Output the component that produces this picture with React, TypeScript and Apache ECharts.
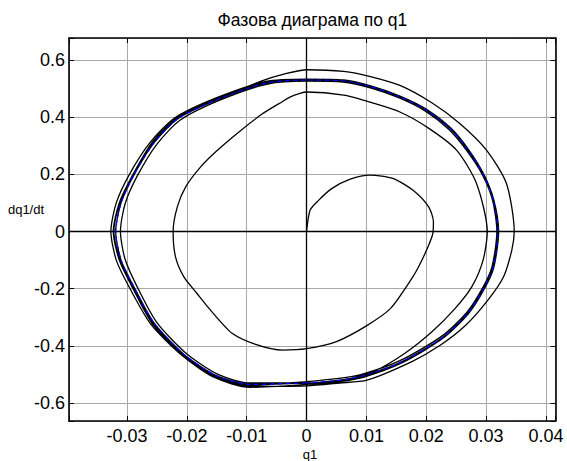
import React, { useEffect, useRef } from "react";
import * as echarts from "echarts";

// Phase portrait data: [q1, dq1/dt]
const spiralStart: number[][] = [
  [0, 0], [0.0006, 0.075], [0.002, 0.109], [0.0042, 0.15], [0.0073, 0.183], [0.0106, 0.197],
  [0.0145, 0.185], [0.0178, 0.144], [0.0204, 0.086], [0.0212, 0.034], [0.0211, -0.007],
  [0.0204, -0.048], [0.019, -0.112], [0.0176, -0.164], [0.014, -0.27], [0.01, -0.33],
  [0.005, -0.385], [0.0, -0.41], [-0.004, -0.415], [-0.0085, -0.395], [-0.0125, -0.355],
  [-0.0163, -0.269], [-0.0183, -0.217], [-0.0205, -0.159], [-0.0219, -0.089], [-0.0223, 0.0],
  [-0.0216, 0.086], [-0.0202, 0.156], [-0.0177, 0.226], [-0.0149, 0.284], [-0.0112, 0.35],
  [-0.0075, 0.41], [-0.004, 0.455], [-0.0027, 0.471], [-0.0011, 0.483], [0.0, 0.488],
  [0.0062, 0.477], [0.011, 0.45], [0.0156, 0.418], [0.0205, 0.36], [0.0251, 0.284],
  [0.0284, 0.168], [0.0302, 0.0], [0.0295, -0.1], [0.0276, -0.194], [0.0248, -0.27],
  [0.021, -0.35], [0.0165, -0.425], [0.0112, -0.49], [0.006, -0.52], [0.0, -0.535],
];

const cycleA: number[][] = [
  [-0.0095, -0.545], [-0.0155, -0.51], [-0.021, -0.43], [-0.026, -0.325], [-0.0295, -0.2],
  [-0.0318, -0.1], [-0.0327, 0.0], [-0.0318, 0.1], [-0.0296, 0.2], [-0.0262, 0.31],
  [-0.022, 0.398], [-0.0148, 0.47], [-0.0068, 0.525], [0.0, 0.533], [0.0062, 0.53],
  [0.011, 0.508], [0.0156, 0.474], [0.02, 0.428], [0.024, 0.362], [0.027, 0.286],
  [0.0296, 0.2], [0.0313, 0.109], [0.0321, 0.0], [0.0313, -0.124], [0.0297, -0.2],
  [0.0271, -0.286], [0.0229, -0.372], [0.0159, -0.46], [0.0095, -0.51], [0.0056, -0.525],
  [0.0, -0.54],
];

const cycleB: number[][] = [
  [0.0, -0.53], [-0.0095, -0.535], [-0.015, -0.505], [-0.0205, -0.43], [-0.0255, -0.32],
  [-0.0287, -0.2], [-0.031, -0.1], [-0.0319, 0.0], [-0.031, 0.1], [-0.0288, 0.2],
  [-0.0255, 0.31], [-0.0215, 0.395], [-0.0144, 0.466], [-0.0066, 0.52], [0.0, 0.53],
  [0.0062, 0.527], [0.011, 0.505], [0.0156, 0.471], [0.02, 0.425], [0.024, 0.36],
  [0.027, 0.284], [0.0295, 0.2], [0.0312, 0.109], [0.032, 0.0], [0.0312, -0.124],
  [0.0296, -0.2], [0.027, -0.284], [0.0228, -0.37], [0.0158, -0.457], [0.0094, -0.505],
  [0.0056, -0.52], [0.0, -0.53],
];

const cycleC: number[][] = [
  [-0.0094, -0.53], [-0.0148, -0.5], [-0.0202, -0.425], [-0.0251, -0.316], [-0.0282, -0.198],
  [-0.0303, -0.099], [-0.0311, 0.0], [-0.0303, 0.099], [-0.0282, 0.198], [-0.025, 0.306],
  [-0.0211, 0.39], [-0.0142, 0.462], [-0.0065, 0.516], [0.0, 0.526], [0.0061, 0.523],
  [0.0108, 0.502], [0.0154, 0.468], [0.0198, 0.422], [0.0238, 0.357], [0.0268, 0.282],
  [0.0294, 0.198], [0.0311, 0.108], [0.0318, 0.0], [0.031, -0.122], [0.0294, -0.198],
  [0.0268, -0.282], [0.0226, -0.366], [0.0156, -0.452], [0.0092, -0.5], [0.0054, -0.514],
  [0.0, -0.525],
];

const outerLoop: number[][] = [
  [-0.0096, -0.538], [-0.0151, -0.507], [-0.0206, -0.431], [-0.0257, -0.321], [-0.0289, -0.2],
  [-0.0312, -0.1], [-0.0322, 0.0], [-0.0312, 0.1], [-0.029, 0.2], [-0.0257, 0.311],
  [-0.0216, 0.396], [-0.0145, 0.467], [-0.0077, 0.525], [-0.0035, 0.552], [0.0001, 0.566],
  [0.0062, 0.56], [0.0105, 0.543], [0.0156, 0.511], [0.0208, 0.452], [0.0256, 0.378],
  [0.0301, 0.284], [0.0334, 0.168], [0.0347, 0.0], [0.0343, -0.065], [0.0329, -0.159],
  [0.0303, -0.24], [0.0265, -0.33], [0.0222, -0.4], [0.0176, -0.455], [0.0101, -0.52],
  [0.0055, -0.53], [0.0, -0.54],
];

const cycleD: number[][] = [
  [-0.0096, -0.542], [-0.0152, -0.508], [-0.0207, -0.432], [-0.0258, -0.322], [-0.029, -0.2],
  [-0.0313, -0.1], [-0.0323, 0.0], [-0.0313, 0.1], [-0.029, 0.2], [-0.0258, 0.312],
  [-0.0217, 0.397], [-0.0146, 0.468], [-0.0067, 0.523], [0.0, 0.532], [0.0063, 0.529],
  [0.0111, 0.507], [0.0157, 0.473], [0.0201, 0.427], [0.0241, 0.362], [0.0271, 0.286],
  [0.0296, 0.201], [0.0313, 0.11], [0.0321, 0.0], [0.0313, -0.125], [0.0297, -0.201],
  [0.0271, -0.286], [0.0229, -0.372], [0.0159, -0.459], [0.0095, -0.507], [0.0057, -0.522],
  [0.0, -0.533],
];

const trajectory: number[][] = [
  ...spiralStart, ...cycleA, ...cycleB, ...cycleC, ...outerLoop, ...cycleD,
];

const X_MIN = -0.0397;
const X_MAX = 0.0416;
const X_STEP = 0.01;
const Y_MIN = -0.663;
const Y_MAX = 0.677;
const Y_STEP = 0.2;

const titleText = "Фазова диаграма по q1";
const xName = "q1";
const yName = "dq1/dt";

const FONT = "'Liberation Sans', Arial, Helvetica, sans-serif";

function onStep(v: number, step: number): boolean {
  const r = v / step;
  return Math.abs(r - Math.round(r)) < 1e-6;
}
function fmt(v: number, step: number): string {
  if (!onStep(v, step)) return "";
  const n = Math.round(v / step) * step;
  const s = Number(n.toFixed(4));
  return s === 0 ? "0" : String(s);
}

export default function App() {
  const ref = useRef<HTMLDivElement>(null);
  useEffect(() => {
    if (!ref.current) return;
    const chart = echarts.init(ref.current, undefined, { renderer: "svg" });
    const commonX = {
      type: "value" as const,
      min: X_MIN,
      max: X_MAX,
      splitNumber: 8,
      minInterval: X_STEP,
      maxInterval: X_STEP,
    };
    const commonY = {
      type: "value" as const,
      min: Y_MIN,
      max: Y_MAX,
      splitNumber: 7,
      minInterval: Y_STEP,
      maxInterval: Y_STEP,
    };
    chart.setOption({
      animation: false,
      backgroundColor: "#ffffff",
      grid: { left: 69, right: 11.5, top: 38, bottom: 40, containLabel: false },
      xAxis: [
        {
          ...commonX,
          position: "bottom",
          axisLine: { show: true, onZero: false, lineStyle: { color: "#000", width: 1.6 } },
          axisTick: { show: true, inside: true, length: 5, lineStyle: { color: "#000", width: 1 } },
          axisLabel: {
            show: true,
            color: "#000",
            fontSize: 18,
            fontFamily: FONT,
            margin: 6,
            formatter: (v: number) => fmt(v, X_STEP),
          },
          splitLine: { show: true, lineStyle: { color: "#a8a8a8", width: 1 } },
        },
        {
          ...commonX,
          position: "top",
          axisLine: { show: true, onZero: false, lineStyle: { color: "#000", width: 1.6 } },
          axisTick: { show: true, inside: true, length: 5, lineStyle: { color: "#000", width: 1 } },
          axisLabel: { show: false },
          splitLine: { show: false },
        },
      ],
      yAxis: [
        {
          ...commonY,
          position: "left",
          axisLine: { show: true, onZero: false, lineStyle: { color: "#000", width: 1.6 } },
          axisTick: { show: true, inside: true, length: 5, lineStyle: { color: "#000", width: 1 } },
          axisLabel: {
            show: true,
            color: "#000",
            fontSize: 18,
            fontFamily: FONT,
            margin: 4,
            formatter: (v: number) => fmt(v, Y_STEP),
          },
          splitLine: { show: true, lineStyle: { color: "#a8a8a8", width: 1 } },
        },
        {
          ...commonY,
          position: "right",
          axisLine: { show: true, onZero: false, lineStyle: { color: "#000", width: 1.6 } },
          axisTick: { show: true, inside: true, length: 5, lineStyle: { color: "#000", width: 1 } },
          axisLabel: { show: false },
          splitLine: { show: false },
        },
      ],
      series: [
        {
          type: "line",
          name: "trajectory",
          xAxisIndex: 0,
          yAxisIndex: 0,
          data: trajectory,
          showSymbol: false,
          symbol: "none",
          smooth: 0.25,
          lineStyle: { color: "#000", width: 1.3 },
          z: 3,
          markLine: {
            silent: true,
            symbol: ["none", "none"],
            label: { show: false },
            lineStyle: { color: "#000", width: 1.3, type: "solid" },
            data: [{ xAxis: 0 }, { yAxis: 0 }],
            z: 2,
          },
        },
        {
          type: "line",
          name: "limit cycle",
          xAxisIndex: 0,
          yAxisIndex: 0,
          data: cycleB,
          showSymbol: false,
          symbol: "none",
          smooth: 0.25,
          lineStyle: { color: "#0000ff", width: 1.2, type: [5, 3] },
          z: 4,
        },
      ],
      graphic: [
        {
          type: "text",
          x: 312.4,
          y: 20,
          style: {
            text: titleText,
            fontSize: 17.5,
            fontFamily: FONT,
            fill: "#000",
            align: "center",
            verticalAlign: "middle",
          },
        },
        {
          type: "text",
          x: 310,
          y: 454,
          style: {
            text: xName,
            fontSize: 13,
            fontFamily: FONT,
            fill: "#000",
            align: "center",
            verticalAlign: "middle",
          },
        },
        {
          type: "text",
          x: 26,
          y: 209,
          style: {
            text: yName,
            fontSize: 13,
            fontFamily: FONT,
            fill: "#000",
            align: "center",
            verticalAlign: "middle",
          },
        },
      ],
    });
    return () => {
      chart.dispose();
    };
  }, []);
  return (
    <div
      ref={ref}
      style={{ position: "fixed", left: 0, top: 0, width: 567, height: 461, background: "#fff" }}
    />
  );
}
